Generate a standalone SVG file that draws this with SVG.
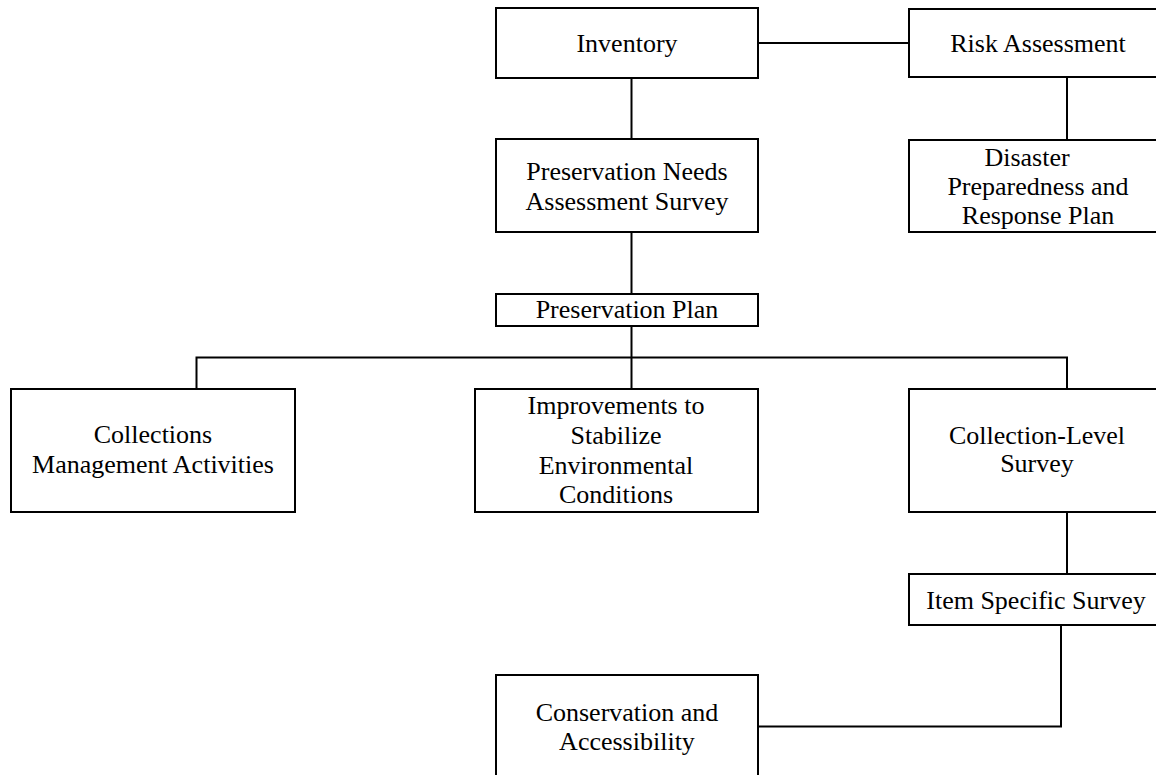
<svg xmlns="http://www.w3.org/2000/svg" width="1156" height="775" viewBox="0 0 1156 775">
<style>
.box{fill:#fff;stroke:#000;stroke-width:2}
.ln{fill:none;stroke:#000;stroke-width:2}
text{font-family:"Liberation Serif","Times New Roman",serif;font-size:26px;fill:#000;text-anchor:middle}
</style>
<rect width="1156" height="775" fill="#fff"/>
<g id="connectors">
<line class="ln" x1="758" y1="43" x2="909" y2="43"/>
<line class="ln" x1="631.5" y1="78" x2="631.5" y2="139"/>
<line class="ln" x1="1067" y1="77" x2="1067" y2="140"/>
<line class="ln" x1="631.5" y1="232" x2="631.5" y2="294"/>
<line class="ln" x1="631.5" y1="326" x2="631.5" y2="389"/>
<polyline class="ln" points="196.5,389 196.5,357.5 1067,357.5 1067,389"/>
<line class="ln" x1="1067" y1="512" x2="1067" y2="574"/>
<polyline class="ln" points="1061,625 1061,726.5 758,726.5"/>
</g>
<g id="inventory"><rect class="box" x="496" y="8" width="262" height="70"/><text x="627" y="52">Inventory</text></g>
<g id="risk-assessment"><rect class="box" x="909" y="9" width="262" height="68"/><text x="1038" y="52">Risk Assessment</text></g>
<g id="pnas"><rect class="box" x="496" y="139" width="262" height="93"/><text x="627" y="180">Preservation Needs</text><text x="627" y="210">Assessment Survey</text></g>
<g id="disaster"><rect class="box" x="909" y="140" width="262" height="92"/><text x="1027" y="166">Disaster</text><text x="1038" y="195">Preparedness and</text><text x="1038" y="224">Response Plan</text></g>
<g id="preservation-plan"><rect class="box" x="496" y="294" width="262" height="32"/><text x="627" y="318">Preservation Plan</text></g>
<g id="collections-mgmt"><rect class="box" x="11" y="389" width="284" height="123"/><text x="153" y="443">Collections</text><text x="153" y="473">Management Activities</text></g>
<g id="improvements"><rect class="box" x="475" y="389" width="283" height="123"/><text x="616" y="414">Improvements to</text><text x="616" y="444">Stabilize</text><text x="616" y="474">Environmental</text><text x="616" y="503">Conditions</text></g>
<g id="collection-level"><rect class="box" x="909" y="389" width="262" height="123"/><text x="1037" y="444">Collection-Level</text><text x="1037" y="472">Survey</text></g>
<g id="item-specific"><rect class="box" x="909" y="574" width="262" height="51"/><text x="1036" y="609">Item Specific Survey</text></g>
<g id="conservation"><rect class="box" x="496" y="675" width="262" height="110"/><text x="627" y="721">Conservation and</text><text x="627" y="750">Accessibility</text></g>
</svg>
